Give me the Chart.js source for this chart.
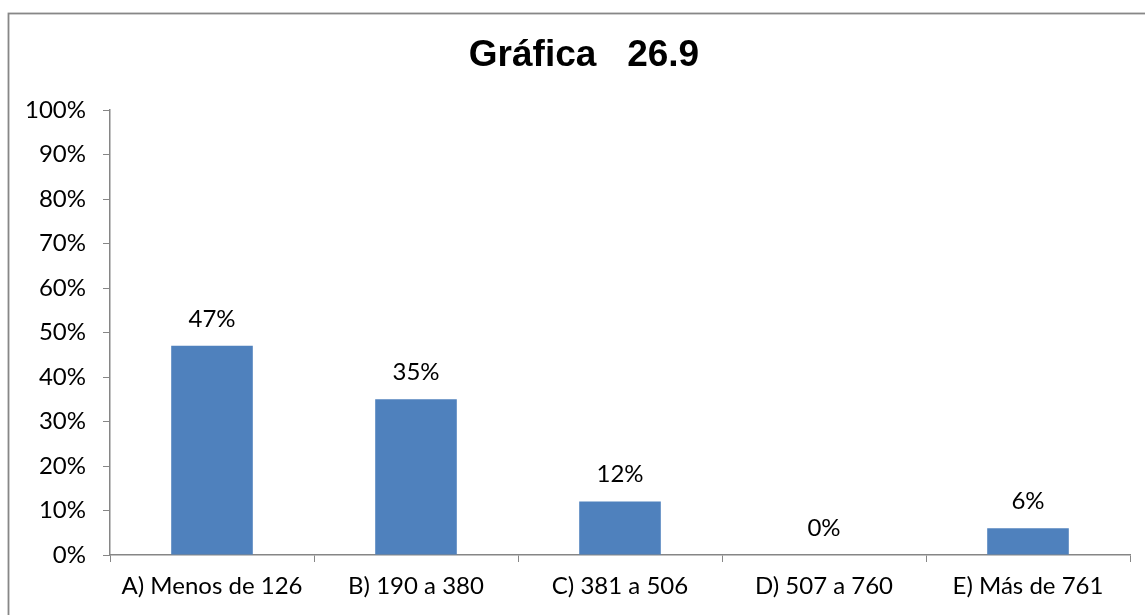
<!DOCTYPE html>
<html>
<head>
<meta charset="utf-8">
<script src="https://cdn.jsdelivr.net/npm/chart.js@4.4.0/dist/chart.umd.min.js"></script>
<style>
html,body{margin:0;padding:0;background:#fff;}
#wrap{width:1145px;height:615px;}
</style>
</head>
<body>
<div id="wrap"><canvas id="c" width="1145" height="615"></canvas></div>
<script>
const categories = ["A) Menos de 126", "B) 190 a 380", "C) 381 a 506", "D) 507 a 760", "E) Más de 761"];
const values = [47, 35, 12, 0, 6];
const yTicks = [0, 10, 20, 30, 40, 50, 60, 70, 80, 90, 100];
const titleText = "Gráfica   26.9";

const FONT = "Lato, 'Open Sans', sans-serif";
const AXIS = "#868686";

const framePlugin = {
  id: 'frame',
  beforeDraw(chart) {
    const ctx = chart.ctx;
    ctx.save();
    ctx.fillStyle = '#fff';
    ctx.fillRect(0, 0, chart.width, chart.height);
    ctx.strokeStyle = '#878787';
    ctx.lineWidth = 1.8;
    ctx.strokeRect(8.5, 13.5, 1200, 700);
    ctx.restore();
  }
};

const titlePlugin = {
  id: 'centeredTitle',
  afterDraw(chart) {
    const ctx = chart.ctx;
    ctx.save();
    ctx.font = "bold 37px 'Liberation Sans', Arial, sans-serif";
    ctx.fillStyle = '#000';
    ctx.textAlign = 'center';
    ctx.textBaseline = 'middle';
    ctx.fillText(titleText, 584, 56);
    ctx.restore();
  }
};

const labelPlugin = {
  id: 'valueLabels',
  afterDatasetsDraw(chart) {
    const ctx = chart.ctx;
    const meta = chart.getDatasetMeta(0);
    ctx.save();
    ctx.font = "24px " + FONT;
    ctx.fillStyle = '#000';
    ctx.textAlign = 'center';
    ctx.textBaseline = 'middle';
    meta.data.forEach((bar, i) => {
      ctx.fillText(values[i] + '%', bar.x, bar.y - 27);
    });
    ctx.restore();
  }
};

new Chart(document.getElementById('c'), {
  type: 'bar',
  data: {
    labels: categories,
    datasets: [{
      data: values,
      backgroundColor: '#4F81BD',
      borderWidth: 0,
      barPercentage: 0.4,
      categoryPercentage: 1.0
    }]
  },
  options: {
    responsive: false,
    devicePixelRatio: 1,
    animation: false,
    layout: { padding: { left: 0, right: 15, top: 110, bottom: 0 } },
    plugins: {
      legend: { display: false },
      tooltip: { enabled: false },
      title: { display: false }
    },
    scales: {
      x: {
        grid: { display: true, drawOnChartArea: false, drawTicks: true, tickLength: 7, color: AXIS, offset: true },
        border: { display: true, color: AXIS, width: 1.5 },
        ticks: { color: '#000', font: { family: FONT, size: 24 }, padding: 10, maxRotation: 0, autoSkip: false },
        afterFit(scale) { scale.height = 60; }
      },
      y: {
        min: 0,
        max: 100,
        afterBuildTicks(scale) { scale.ticks = yTicks.map(v => ({ value: v })); },
        grid: { display: true, drawOnChartArea: false, drawTicks: true, tickLength: 7, color: AXIS },
        border: { display: true, color: AXIS, width: 1.5 },
        ticks: { color: '#000', font: { family: FONT, size: 24 }, padding: 17, callback: v => v + '%' },
        afterFit(scale) { scale.width = 110; }
      }
    }
  },
  plugins: [framePlugin, labelPlugin, titlePlugin]
});
</script>
</body>
</html>
